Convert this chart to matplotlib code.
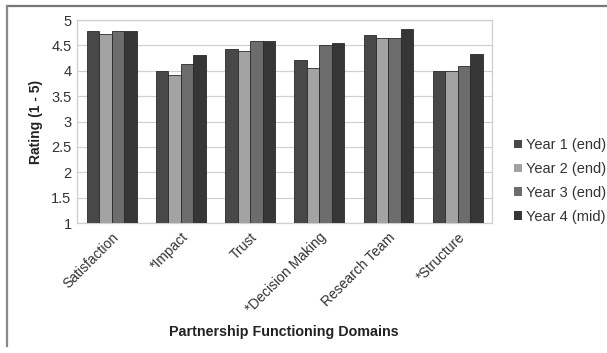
import numpy as np
import matplotlib.pyplot as plt
from matplotlib.lines import Line2D
from matplotlib.patches import Patch

categories = ["Satisfaction", "*Impact", "Trust", "*Decision Making", "Research Team", "*Structure"]
series_names = ["Year 1 (end)", "Year 2 (end)", "Year 3 (end)", "Year 4 (mid)"]
year1 = [4.78, 3.99, 4.43, 4.22, 4.71, 4.00]
year2 = [4.73, 3.91, 4.40, 4.05, 4.64, 4.00]
year3 = [4.78, 4.13, 4.58, 4.51, 4.65, 4.09]
year4 = [4.78, 4.32, 4.59, 4.55, 4.82, 4.34]
y_ticks = [1, 1.5, 2, 2.5, 3, 3.5, 4, 4.5, 5]
y_tick_labels = ["1", "1.5", "2", "2.5", "3", "3.5", "4", "4.5", "5"]

colors = ["#484848", "#a3a3a3", "#6c6c6c", "#363636"]

plt.rcParams['font.family'] = ['Liberation Sans', 'DejaVu Sans']

fig = plt.figure(figsize=(6.07, 3.53), dpi=100)
ax = fig.add_axes([0.127, 0.368, 0.684, 0.575])

x = np.arange(len(categories))
bw = 0.18
all_series = [year1, year2, year3, year4]
for i, (vals, c) in enumerate(zip(all_series, colors)):
    offs = (i - 1.5) * bw
    ax.bar(x + offs, np.array(vals) - 1, bw, bottom=1, color=c,
           edgecolor="#2a2a2a", linewidth=0.6, zorder=3)

ax.set_xlim(-0.5, len(categories) - 0.5)
ax.set_ylim(1, 5)
ax.set_yticks(y_ticks)
ax.set_yticklabels(y_tick_labels, fontsize=10.5, color="#333333")
ax.yaxis.grid(True, color="#d0d0d0", linewidth=0.9, zorder=0)
ax.set_axisbelow(True)
ax.tick_params(axis="both", length=0, pad=4)
for s in ax.spines.values():
    s.set_color("#cfcfcf")
    s.set_linewidth(0.9)

ax.set_xticks(x)
ax.set_xticklabels(categories, rotation=45, ha="right", rotation_mode="anchor",
                   fontsize=10, color="#333333")
ax.tick_params(axis="x", pad=5)

ax.set_ylabel("Rating (1 - 5)", fontsize=10, fontweight="bold", color="#222222", labelpad=6)
fig.text(0.467, 0.06, "Partnership Functioning Domains", ha="center", va="center",
         fontsize=10.3, fontweight="bold", color="#222222")

handles = [Patch(facecolor=c, edgecolor="none") for c in colors]
fig.legend(handles, series_names, loc="center left", bbox_to_anchor=(0.825, 0.487),
           frameon=False, fontsize=10.5, handlelength=0.55, handleheight=0.55,
           handletextpad=0.3, labelspacing=0.68, labelcolor="#333333")

# outer frame lines (top and left)
fig.add_artist(Line2D([0.012, 1.0], [0.984, 0.984], color="#777777", linewidth=1.6))
fig.add_artist(Line2D([0.012, 0.012], [0.02, 0.984], color="#888888", linewidth=1.6))

fig.savefig("out.png", dpi=100)
